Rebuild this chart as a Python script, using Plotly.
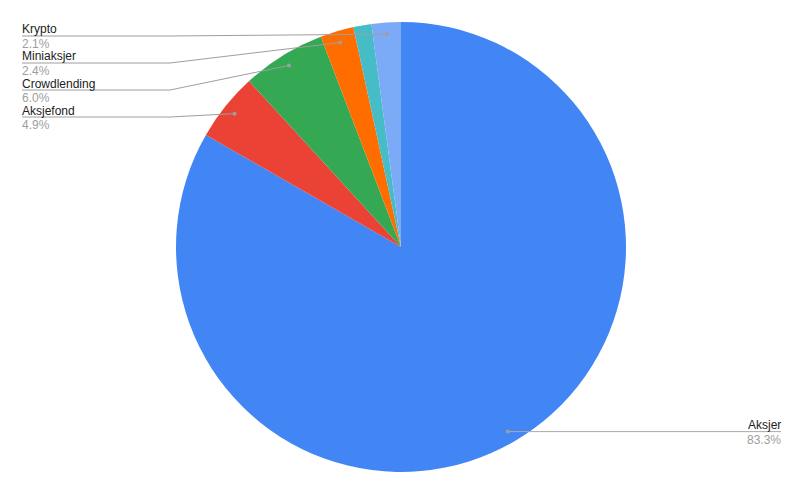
import math
import plotly.graph_objects as go

labels = ["Aksjer", "Aksjefond", "Crowdlending", "Miniaksjer", "Annet", "Krypto"]
values = [83.3, 4.9, 6.0, 2.4, 1.3, 2.1]
colors = ["#4285F4", "#EA4335", "#34A853", "#FF6D01", "#46BDC6", "#7BAAF7"]
pct_text = ["83.3%", "4.9%", "6.0%", "2.4%", "", "2.1%"]

W, H = 803, 496
OFF = 8  # page body margin
CX, CY, R = 401 - OFF, 247 - OFF, 225

fig = go.Figure(go.Pie(
    labels=labels, values=values, sort=False, direction="clockwise", rotation=0,
    marker=dict(colors=colors, line=dict(width=0)),
    textinfo="none", hoverinfo="label+percent",
    domain=dict(x=[(CX - R) / W, (CX + R) / W], y=[(H - CY - R) / H, (H - CY + R) / H]),
    showlegend=False,
))

def px(x):
    return x / W

def py(y):
    return 1 - y / H

total = sum(values)
cum = 0
dots = {}
for lab, v in zip(labels, values):
    mid = (cum + v / 2) / total * 2 * math.pi
    cum += v
    dx = math.sin(mid) * R * 0.948
    dy = math.cos(mid) * R * 0.948
    dots[lab] = (CX + dx, CY - dy)

shapes = []
annotations = []
line_col = "#9e9e9e"
font_name = dict(family="Liberation Sans, Arial, sans-serif", size=12, color="#222222")
font_pct = dict(family="Liberation Sans, Arial, sans-serif", size=12, color="#9e9e9e")

left_order = ["Krypto", "Miniaksjer", "Crowdlending", "Aksjefond"]
left_y = [y - OFF for y in [36, 63, 90, 117]]
x_left, x_elbow = 22 - OFF, 170 - OFF
for lab, ly in zip(left_order, left_y):
    i = labels.index(lab)
    dxp, dyp = dots[lab]
    shapes.append(dict(type="line", xref="paper", yref="paper", x0=px(x_left), y0=py(ly),
                       x1=px(x_elbow), y1=py(ly), line=dict(color=line_col, width=1)))
    shapes.append(dict(type="line", xref="paper", yref="paper", x0=px(x_elbow), y0=py(ly),
                       x1=px(dxp), y1=py(dyp), line=dict(color=line_col, width=1)))
    shapes.append(dict(type="circle", xref="paper", yref="paper", x0=px(dxp - 2), y0=py(dyp - 2),
                       x1=px(dxp + 2), y1=py(dyp + 2), fillcolor=line_col, line=dict(width=0)))
    annotations.append(dict(xref="paper", yref="paper", x=px(x_left - 1), y=py(ly + 1.5), text=lab,
                            showarrow=False, xanchor="left", yanchor="bottom", font=font_name,
                            borderpad=0))
    annotations.append(dict(xref="paper", yref="paper", x=px(x_left - 1), y=py(ly), text=pct_text[i],
                            showarrow=False, xanchor="left", yanchor="top", font=font_pct,
                            borderpad=0))

lab = "Aksjer"
dxp, dyp = dots[lab]
x_right = 781 - OFF
ly = dyp
shapes.append(dict(type="line", xref="paper", yref="paper", x0=px(dxp), y0=py(ly),
                   x1=px(x_right), y1=py(ly), line=dict(color="#aaaaaa", width=1)))
shapes.append(dict(type="circle", xref="paper", yref="paper", x0=px(dxp - 2), y0=py(dyp - 2),
                   x1=px(dxp + 2), y1=py(dyp + 2), fillcolor=line_col, line=dict(width=0)))
annotations.append(dict(xref="paper", yref="paper", x=px(x_right + 1), y=py(ly + 1.5), text=lab,
                        showarrow=False, xanchor="right", yanchor="bottom", font=font_name, borderpad=0))
annotations.append(dict(xref="paper", yref="paper", x=px(x_right + 1), y=py(ly), text=pct_text[0],
                        showarrow=False, xanchor="right", yanchor="top", font=font_pct, borderpad=0))

fig.update_layout(
    width=W, height=H, margin=dict(l=0, r=0, t=0, b=0),
    paper_bgcolor="white", plot_bgcolor="white",
    shapes=shapes, annotations=annotations,
)
fig.write_html("out.html")
